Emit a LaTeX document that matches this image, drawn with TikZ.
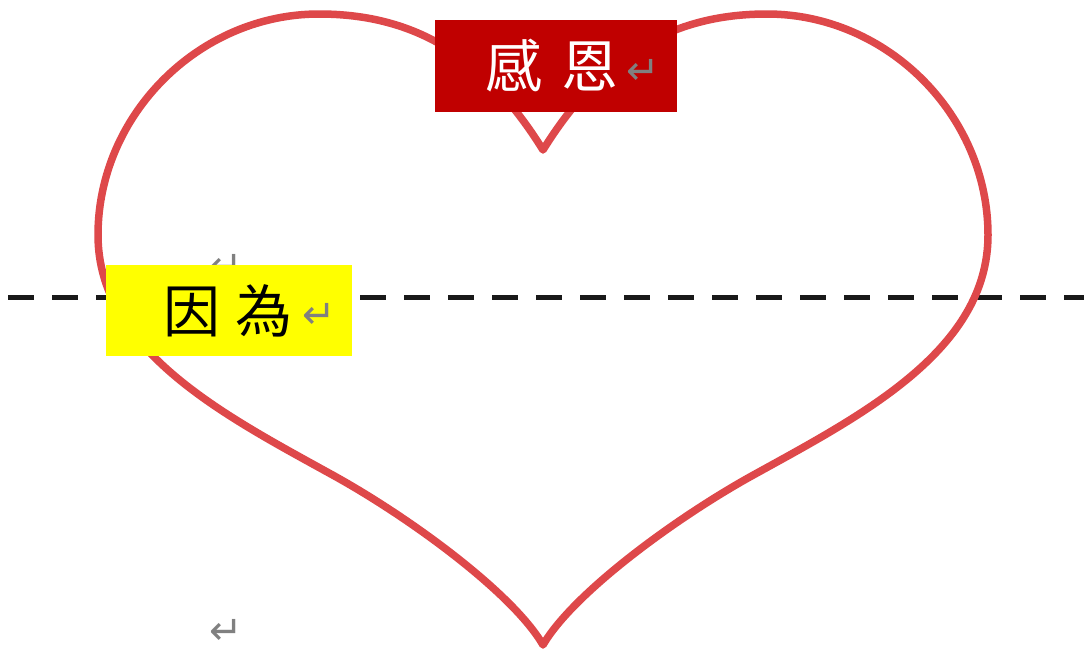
\documentclass[tikz,border=0pt]{standalone}
\usepackage{fontspec}
\newfontfamily\cjk{Noto Sans CJK TC}
\newfontfamily\dv{DejaVu Sans}
\definecolor{heartred}{RGB}{222,72,74}
\definecolor{boxred}{RGB}{192,0,0}
\definecolor{boxyellow}{RGB}{255,255,0}
\definecolor{markgray}{RGB}{128,128,128}
\newcommand{\retglyph}{{\dv\fontsize{40}{40}\selectfont\color{markgray}↵}}
\begin{document}
\begin{tikzpicture}[x=1pt,y=-1pt,
  heartline/.style={draw=heartred,line width=7.5pt,line join=round},
  dashline/.style={draw=black!90,line width=4.5pt,dash pattern=on 26pt off 18pt},
  boxshape/.style={rectangle,inner sep=0pt,anchor=north west},
  cjktext/.style={inner sep=0pt,anchor=west,font=\cjk\fontsize{57}{57}\selectfont},
  retmark/.style={inner sep=0pt,text=markgray,font=\dv\fontsize{40}{40}\selectfont}]
\useasboundingbox (0,0) rectangle (1084,654);
\fill[white] (0,0) rectangle (1084,654);
% dashed line
\coordinate (dl) at (8,297.5);
\coordinate (dr) at (1084,297.5);
\draw[dashline] (dl) -- (dr);
% heart
\draw[heartline] (543,150) .. controls (600,58) and (670,14) .. (767,14)
  .. controls (887,14) and (988,115) .. (988,235)
  .. controls (988,350) and (862,415) .. (757,473)
  .. controls (678,516) and (573,593) .. (543,645)
  .. controls (513,593) and (408,516) .. (329,473)
  .. controls (224,415) and (98,350) .. (98,235)
  .. controls (98,115) and (199,14) .. (319,14)
  .. controls (416,14) and (486,58) .. (543,150) -- cycle;
% hidden return mark behind the yellow box
\node[retmark] (hidmark) at (226,267) {↵};
% boxes
\node[boxshape,fill=boxred,minimum width=242pt,minimum height=92pt] (ganbox) at (435,20) {};
\node[boxshape,fill=boxyellow,minimum width=246pt,minimum height=91pt] (yinbox) at (106,265) {};
% texts
\node[cjktext,text=white] (gantext) at (485.5,66) {感\hspace{19pt}恩\hspace{8pt}\raisebox{3pt}{\retglyph}};
\node[cjktext,text=black] (yintext) at (163,311) {因\hspace{15pt}為\hspace{10pt}\raisebox{4pt}{\retglyph}};
% bottom return mark
\node[retmark] (botmark) at (226.5,631.5) {↵};
\end{tikzpicture}
\end{document}
